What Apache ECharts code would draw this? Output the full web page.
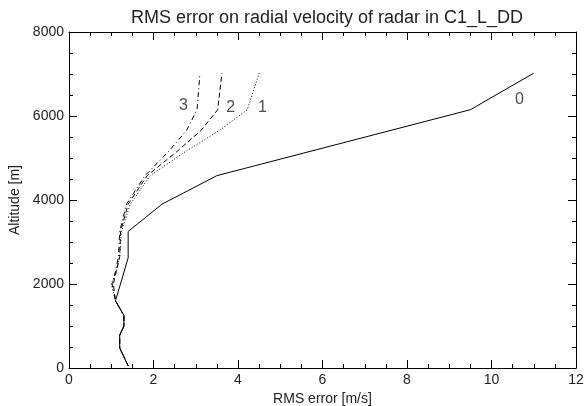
<!DOCTYPE html>
<html>
<head>
<meta charset="utf-8">
<title>RMS error on radial velocity</title>
<script src="https://cdn.jsdelivr.net/npm/echarts@6/dist/echarts.min.js"></script>
<style>
  html, body { margin: 0; padding: 0; background: #fff; }
  #chart { width: 586px; height: 406px; }
</style>
</head>
<body>
<div id="chart"></div>
<script>
// curve 0 (solid)
const alt0 = [50, 480, 780, 1000, 1250, 1600, 2620, 3250, 3900, 4580, 6150, 7020];
const rms0 = [1.40, 1.20, 1.20, 1.30, 1.30, 1.10, 1.40, 1.40, 2.20, 3.50, 9.50, 11.0];

// curves 1..3 share the same levels
const altN = [50, 480, 780, 1000, 1250, 1600, 2000, 2300, 2650, 3250, 3900, 4580, 5150, 5650, 6150, 7020];
const rms1 = [1.40, 1.20, 1.20, 1.30, 1.30, 1.10, 1.00, 1.12, 1.20, 1.24, 1.45, 1.92, 2.75, 3.55, 4.22, 4.50];
const rms2 = [1.40, 1.20, 1.20, 1.30, 1.30, 1.10, 1.05, 1.12, 1.20, 1.22, 1.40, 1.85, 2.55, 3.12, 3.52, 3.62];
const rms3 = [1.40, 1.20, 1.20, 1.30, 1.30, 1.10, 1.02, 1.10, 1.17, 1.20, 1.36, 1.80, 2.35, 2.78, 3.03, 3.10];

// curve labels
const labelText = ['0', '1', '2', '3'];
const labelX = [10.66, 4.58, 3.83, 2.71];
const labelY = [6380, 6190, 6210, 6250];

const FONT = 'Liberation Sans, Arial, sans-serif';
const INK = '#222';

function pairs(xs, ys) {
  return xs.map((x, i) => [x, ys[i]]);
}

function curve(name, xs, ys, dash) {
  return {
    name,
    type: 'line',
    data: pairs(xs, ys),
    symbol: 'none',
    lineStyle: { color: '#000', width: 1, type: dash },
  };
}

const chart = echarts.init(document.getElementById('chart'), null, { renderer: 'canvas' });

chart.setOption({
  animation: false,
  title: {
    text: 'RMS error on radial velocity of radar in C1_L_DD',
    left: 322,
    textAlign: 'center',
    top: 4,
    textStyle: { fontSize: 18, fontWeight: 'normal', color: INK, fontFamily: FONT },
  },
  grid: { left: 69, right: 10, top: 32, bottom: 38, outerBoundsMode: 'none' },
  xAxis: [
    {
      type: 'value', min: 0, max: 12, interval: 2, position: 'bottom',
      axisLine: { show: true, onZero: false, lineStyle: { color: '#000', width: 1 } },
      axisTick: { show: true, inside: true, length: 8, lineStyle: { color: '#000', width: 1 } },
      minorTick: { show: true, splitNumber: 4, length: 4, lineStyle: { color: '#000', width: 1 } },
      splitLine: { show: false },
      axisLabel: { color: INK, fontSize: 14, fontFamily: FONT, margin: 5 },
      name: 'RMS error [m/s]', nameLocation: 'middle', nameGap: 19,
      nameTextStyle: { color: INK, fontSize: 14, fontFamily: FONT },
    },
    {
      type: 'value', min: 0, max: 12, interval: 2, position: 'top',
      axisLine: { show: true, onZero: false, lineStyle: { color: '#000', width: 1 } },
      axisTick: { show: true, inside: true, length: 8, lineStyle: { color: '#000', width: 1 } },
      minorTick: { show: true, splitNumber: 4, length: 4, lineStyle: { color: '#000', width: 1 } },
      splitLine: { show: false },
      axisLabel: { show: false },
    },
  ],
  yAxis: [
    {
      type: 'value', min: 0, max: 8000, interval: 2000, position: 'left',
      axisLine: { show: true, onZero: false, lineStyle: { color: '#000', width: 1 } },
      axisTick: { show: true, inside: true, length: 8, lineStyle: { color: '#000', width: 1 } },
      splitLine: { show: false },
      axisLabel: { color: INK, fontSize: 14, fontFamily: FONT, margin: 5, formatter: v => String(v) },
      name: 'Altitude [m]', nameLocation: 'middle', nameGap: 42,
      nameTextStyle: { color: INK, fontSize: 14, fontFamily: FONT },
    },
    {
      type: 'value', min: 0, max: 8000, interval: 2000, position: 'right',
      axisLine: { show: true, onZero: false, lineStyle: { color: '#000', width: 1 } },
      axisTick: { show: true, inside: true, length: 8, lineStyle: { color: '#000', width: 1 } },
      splitLine: { show: false },
      axisLabel: { show: false },
    },
    // short ticks every 500 m on both sides
    {
      type: 'value', min: 0, max: 8000, interval: 500, position: 'left',
      axisLine: { show: false, onZero: false },
      axisTick: { show: true, inside: true, length: 4, lineStyle: { color: '#000', width: 1 } },
      splitLine: { show: false },
      axisLabel: { show: false },
    },
    {
      type: 'value', min: 0, max: 8000, interval: 500, position: 'right',
      axisLine: { show: false, onZero: false },
      axisTick: { show: true, inside: true, length: 4, lineStyle: { color: '#000', width: 1 } },
      splitLine: { show: false },
      axisLabel: { show: false },
    },
  ],
  series: [
    curve('0', rms0, alt0, 'solid'),
    curve('1', rms1, altN, [1, 2]),
    curve('2', rms2, altN, [5, 3]),
    curve('3', rms3, altN, [5, 3, 1, 3]),
    {
      type: 'scatter',
      symbolSize: 0,
      data: labelText.map((t, i) => ({ name: t, value: [labelX[i], labelY[i]] })),
      label: {
        show: true,
        position: 'inside',
        formatter: p => p.name,
        color: INK,
        fontSize: 16,
        fontFamily: FONT,
      },
      silent: true,
    },
  ],
});
</script>
</body>
</html>
